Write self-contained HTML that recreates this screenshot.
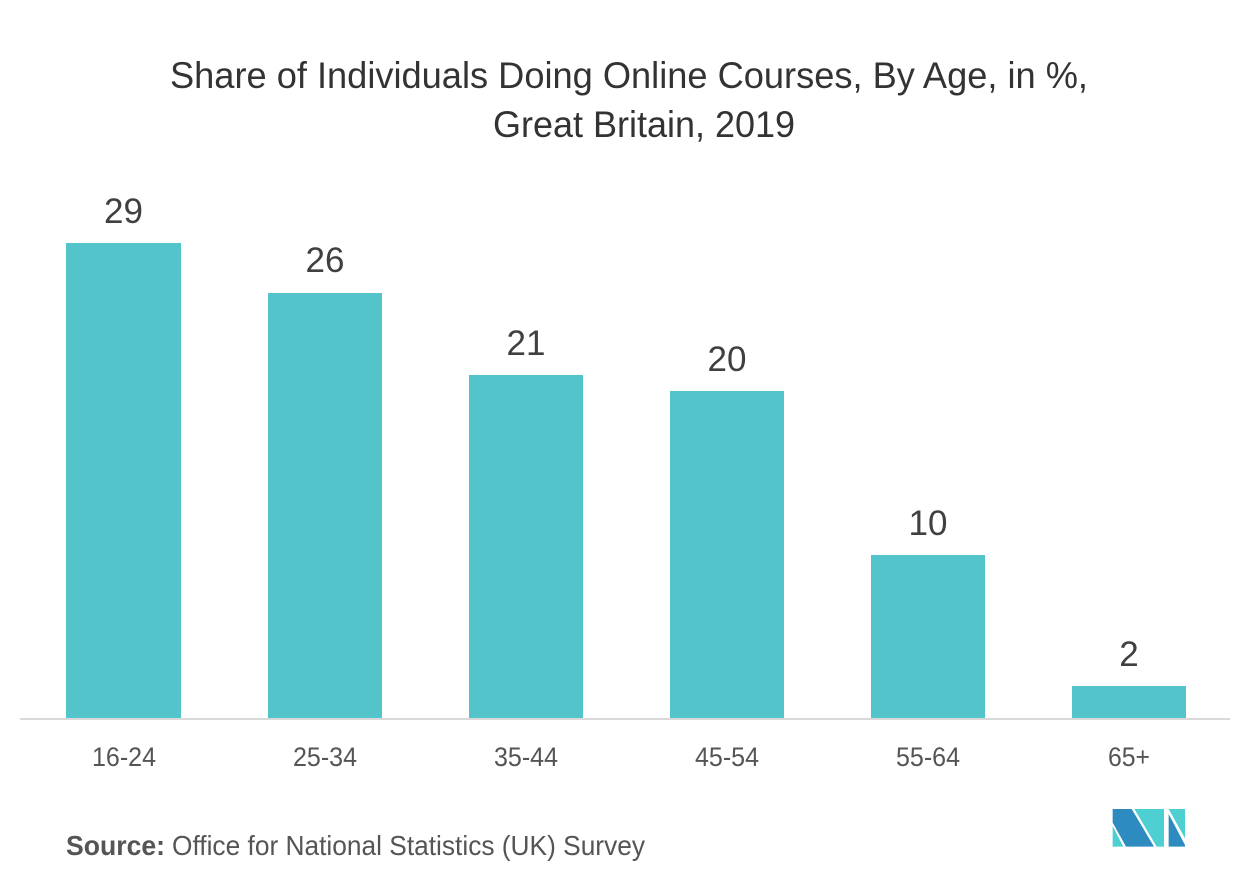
<!DOCTYPE html>
<html>
<head>
<meta charset="utf-8">
<style>
  html,body{margin:0;padding:0;background:#fff;}
  svg{display:block;}
  text{font-family:"Liberation Sans",Arial,sans-serif;}
</style>
</head>
<body>
<svg width="1253" height="880" viewBox="0 0 1253 880" xmlns="http://www.w3.org/2000/svg">
  <rect width="1253" height="880" fill="#fff"/>
  <!-- Title -->
  <text x="170" y="88" font-size="37" fill="#333" textLength="918" lengthAdjust="spacingAndGlyphs">Share of Individuals Doing Online Courses, By Age, in %,</text>
  <text x="493" y="137" font-size="37" fill="#333" textLength="302" lengthAdjust="spacingAndGlyphs">Great Britain, 2019</text>

  <!-- Bars -->
  <g fill="#52c4ca">
    <rect x="66" y="243" width="115" height="475"/>
    <rect x="268" y="293" width="114" height="425"/>
    <rect x="469" y="375" width="114" height="343"/>
    <rect x="670" y="391" width="114" height="327"/>
    <rect x="871" y="555" width="114" height="163"/>
    <rect x="1072" y="686" width="114" height="32"/>
  </g>
  <!-- baseline -->
  <rect x="20" y="718" width="1210" height="2" fill="#d9d9d9"/>

  <!-- Value labels -->
  <g font-size="35" fill="#404040" text-anchor="middle">
    <text x="123.5" y="223">29</text>
    <text x="325" y="272">26</text>
    <text x="526" y="355">21</text>
    <text x="727" y="371">20</text>
    <text x="928" y="535">10</text>
    <text x="1129" y="666">2</text>
  </g>

  <!-- Category labels -->
  <g font-size="27" fill="#555">
    <text x="92" y="766" textLength="64" lengthAdjust="spacingAndGlyphs">16-24</text>
    <text x="293" y="766" textLength="64" lengthAdjust="spacingAndGlyphs">25-34</text>
    <text x="494" y="766" textLength="64" lengthAdjust="spacingAndGlyphs">35-44</text>
    <text x="695" y="766" textLength="64" lengthAdjust="spacingAndGlyphs">45-54</text>
    <text x="896" y="766" textLength="64" lengthAdjust="spacingAndGlyphs">55-64</text>
    <text x="1108" y="766" textLength="42" lengthAdjust="spacingAndGlyphs">65+</text>
  </g>

  <!-- Source -->
  <text x="66" y="855" font-size="28" font-weight="bold" fill="#555" textLength="99" lengthAdjust="spacingAndGlyphs">Source:</text>
  <text x="172" y="855" font-size="28" fill="#555" textLength="473" lengthAdjust="spacingAndGlyphs">Office for National Statistics (UK) Survey</text>

  <!-- Logo -->
  <svg x="1090" y="790" width="120" height="80" viewBox="0 0 360 240">
    <polygon points="68,57 125,57 192,170 108,170 68,98" fill="#2e8bc0"/>
    <polygon points="68,108 68,170 100,170" fill="#4ecfd2"/>
    <polygon points="133,57 222,57 222,170 200,170" fill="#4ecfd2"/>
    <polygon points="236,57 285,57 285,145" fill="#4ecfd2"/>
    <polygon points="236,72 285,165 285,170 236,170" fill="#2e8bc0"/>
  </svg>
</svg>
</body>
</html>
